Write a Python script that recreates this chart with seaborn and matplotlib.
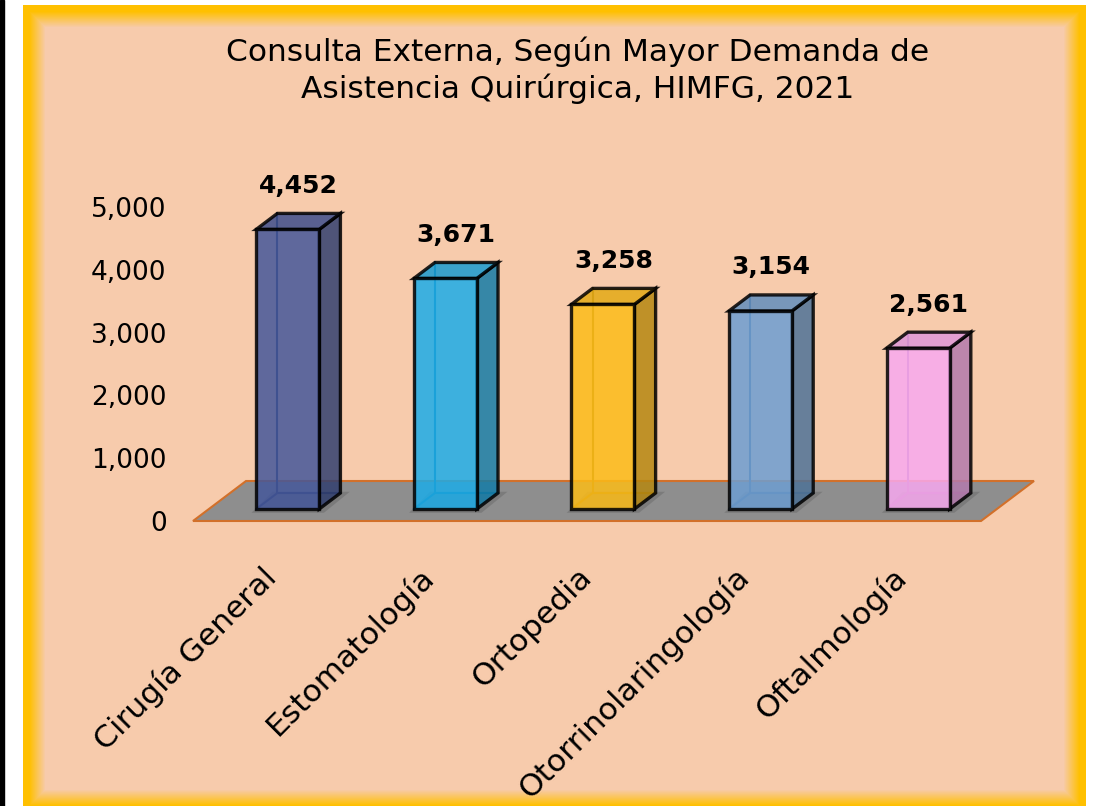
import numpy as np
import matplotlib
matplotlib.use("Agg")
import matplotlib.pyplot as plt
from matplotlib.patches import Polygon, Rectangle
import seaborn as sns

# data
categories = ["Cirugía General", "Estomatología", "Ortopedia", "Otorrinolaringología", "Oftalmología"]
values = [4452, 3671, 3258, 3154, 2561]
front_colors = ["#44579A", "#1CACE8", "#FCBC18", "#6D9ED2", "#F8A9F0"]
y_ticks = [0, 1000, 2000, 3000, 4000, 5000]
title = "Consulta Externa, Según Mayor Demanda de\nAsistencia Quirúrgica, HIMFG, 2021"

sns.set_theme(style="white")
plt.rcParams["font.family"] = ["DejaVu Sans"]

W, H = 1094, 806
fig = plt.figure(figsize=(W / 100, H / 100), dpi=100, facecolor="white")

# black strip on the left
fig.patches.append(Rectangle((0, 0), 4 / W, 1, transform=fig.transFigure, color="black", zorder=0))

# framed background: yellow edge fading into peach
fx0, fx1, fy0, fy1 = 23, 1086, 5, 806
bw, bh = fx1 - fx0, fy1 - fy0
yy, xx = np.mgrid[0:bh, 0:bw]
d = np.minimum.reduce([xx, bw - 1 - xx, yy, (bh - 1 - yy) + 6])
t = np.clip((d - 6) / 16, 0, 1)[..., None]
yellow = np.array([255, 192, 0]) / 255
peach = np.array([247, 203, 172]) / 255
img = yellow * (1 - t) + peach * t
bg = fig.add_axes([fx0 / W, 0, bw / W, bh / H])
bg.imshow(img, aspect="auto", interpolation="bilinear")
bg.axis("off")

# main axes
ax = fig.add_axes([193 / W, 285 / H, 788 / W, 314 / H])
ax.set_facecolor("none")
ax.set_xlim(-0.5, 4.5)
ax.set_ylim(0, 5000)

# 3d depth in data units (floor depth)
DX = 53 / (788 / 5)
DY = 40 * (5000 / 314)
f_front, f_back = 0.3, 0.7
ox, oy = f_front * DX, f_front * DY
bdx, bdy = (f_back - f_front) * DX, (f_back - f_front) * DY

# floor
floor = Polygon([(-0.5, 0), (4.5, 0), (4.5 + DX, DY), (-0.5 + DX, DY)],
                closed=True, facecolor="#8E8E8E", edgecolor="#D2702A", lw=1.5, zorder=1, clip_on=False)
ax.add_patch(floor)

sns.barplot(x=categories, y=values, hue=categories, palette=front_colors, legend=False,
            width=0.4, ax=ax, edgecolor="black", linewidth=2.4, alpha=0.85, saturation=1, zorder=5)

def shade(c, k):
    r = np.array(matplotlib.colors.to_rgb(c))
    return tuple(r * k)

# first patch is the floor, the rest are the bars
for patch, val, col in zip(ax.patches[1:], values, front_colors):
    x0, w = patch.get_x(), patch.get_width()
    patch.set_x(x0 + ox)
    patch.set_y(oy)
    patch.set_clip_on(False)
    xl, xr = x0 + ox, x0 + ox + w
    yb, yt = oy, oy + val
    # shadow under bar
    ax.add_patch(Polygon([(xl - 0.03, yb - 60), (xr + 0.03, yb - 60), (xr + bdx + 0.06, yb + bdy + 20),
                          (xl + bdx - 0.03, yb + bdy + 20)], closed=True, facecolor="#5A5A5A",
                         edgecolor="none", alpha=0.35, zorder=2, clip_on=False))
    # hidden back edges
    ax.plot([xl + bdx, xl + bdx], [yb + bdy, yt + bdy], color=shade(col, 0.6), lw=1.5, zorder=3, clip_on=False)
    ax.plot([xl, xl + bdx, xr + bdx], [yb, yb + bdy, yb + bdy], color=shade(col, 0.6), lw=1.5, zorder=3, clip_on=False)
    # side face
    ax.add_patch(Polygon([(xr, yb), (xr, yt), (xr + bdx, yt + bdy), (xr + bdx, yb + bdy)], closed=True,
                         facecolor=shade(col, 0.72), edgecolor="black", lw=2.4, alpha=0.85, zorder=4, clip_on=False))
    # top face
    ax.add_patch(Polygon([(xl, yt), (xr, yt), (xr + bdx, yt + bdy), (xl + bdx, yt + bdy)], closed=True,
                         facecolor=shade(col, 0.9), edgecolor="black", lw=2.4, alpha=0.85, zorder=4, clip_on=False))
    # value label
    ax.annotate(f"{val:,}", ((xl + xr) / 2 + bdx / 2, yt + bdy / 2), xytext=(0, 17), textcoords="offset points",
                ha="center", va="bottom", fontsize=18, fontweight="bold", color="black")

ax.set_yticks(y_ticks)
ax.set_yticklabels([f"{v:,}" for v in y_ticks], fontsize=19, color="black")
ax.set_xticks(range(len(categories)))
ax.set_xticklabels(categories, rotation=45, ha="right", va="center", rotation_mode="anchor",
                   fontsize=22.5, color="black")
ax.tick_params(axis="y", length=0, pad=19)
ax.tick_params(axis="x", length=0, pad=37)
ax.set_xlabel("")
ax.set_ylabel("")
for s in ax.spines.values():
    s.set_visible(False)

fig.text(578 / W, 1 - 70 / H, title, ha="center", va="center", fontsize=22.5, linespacing=1.28, color="black")

fig.savefig("out.png", dpi=100, facecolor="white")
